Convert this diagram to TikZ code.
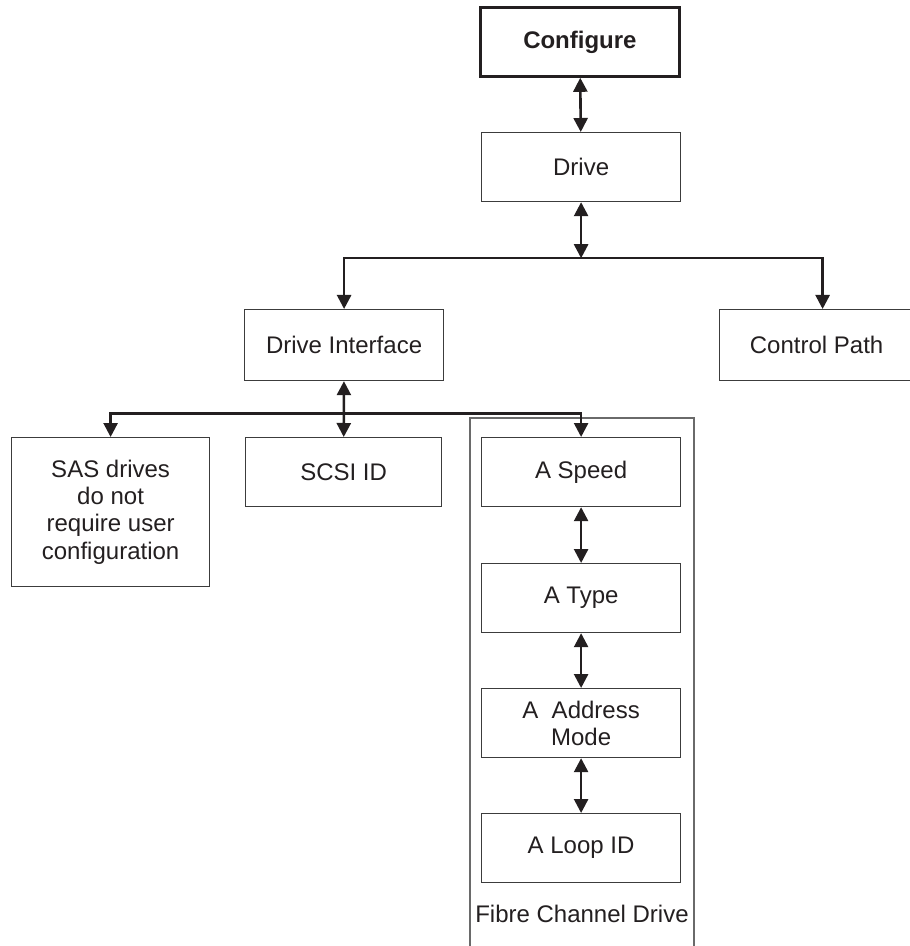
\documentclass[tikz,border=0pt]{standalone}
\usepackage{fontspec}
\setmainfont{Liberation Sans}
\usetikzlibrary{arrows.meta,calc}
\definecolor{ink}{HTML}{231F20}
\definecolor{boxline}{HTML}{3C3C3C}
\definecolor{groupline}{HTML}{6A6A6A}

\begin{document}
\begin{tikzpicture}[
  x=0.5pt, y=-0.5pt,
  font=\fontsize{12pt}{13.6pt}\selectfont,
  >={Triangle[length=7pt,width=7pt]},
  box/.style={draw=boxline, line width=0.6pt, minimum width=99.5pt, minimum height=34.5pt, inner sep=2pt, align=center, text=ink, anchor=north west},
  topbox/.style={box, draw=ink, line width=1.4pt, font=\fontsize{12pt}{13.6pt}\selectfont\bfseries},
  link/.style={<->, draw=ink, line width=1.3pt},
  feed/.style={->, draw=ink, line width=1.3pt},
  group/.style={draw=groupline, line width=0.6pt},
  grouptitle/.style={text=ink, inner sep=0pt}
]
\useasboundingbox (0,0) rectangle (909,946);

% top of the menu
\node[topbox] (configure) at (479,6) {Configure};
\node[box] (drive) at (481,132) {Drive};
\draw[link] (configure) -- (drive);

% drive branches
\node[box, minimum height=35.5pt] (iface) at (244,309) {Drive Interface};
\node[box, minimum width=97pt, minimum height=35.5pt] (ctrl) at (719,309) {Control Path};
\coordinate (busA) at ($(drive.south)+(0,56)$);
\draw[link] (drive.south) -- (busA);
\draw[feed] (busA) -| (iface.north);
\draw[feed] (busA) -| ($(ctrl.north)+(6,0)$);

% interface choices
\node[box, minimum width=99pt, minimum height=74.5pt] (sas) at (11,437) {SAS drives\\do not\\require user\\configuration};
\node[box, minimum width=98pt] (scsi) at (245,437) {SCSI ID};
\draw[group] (470,960) |- (694,418) -- (694,960);
\node[box] (speed) at (481,437) {A Speed};
\node[box] (atype) at (481,563) {A Type};
\node[box] (addr) at (481,688) {A~ Address\\Mode};
\node[box] (loop) at (481,813) {A Loop ID};
\node[grouptitle] (fibre) at (582,914) {Fibre Channel Drive};

\coordinate (busB) at ($(iface.south)+(0,32)$);
\draw[link] (iface) -- (scsi);
\draw[feed] (busB) -| (sas.north);
\draw[feed] (busB) -| (speed.north);
\draw[link] (speed) -- (atype);
\draw[link] (atype) -- (addr);
\draw[link] (addr) -- (loop);

\end{tikzpicture}
\end{document}
